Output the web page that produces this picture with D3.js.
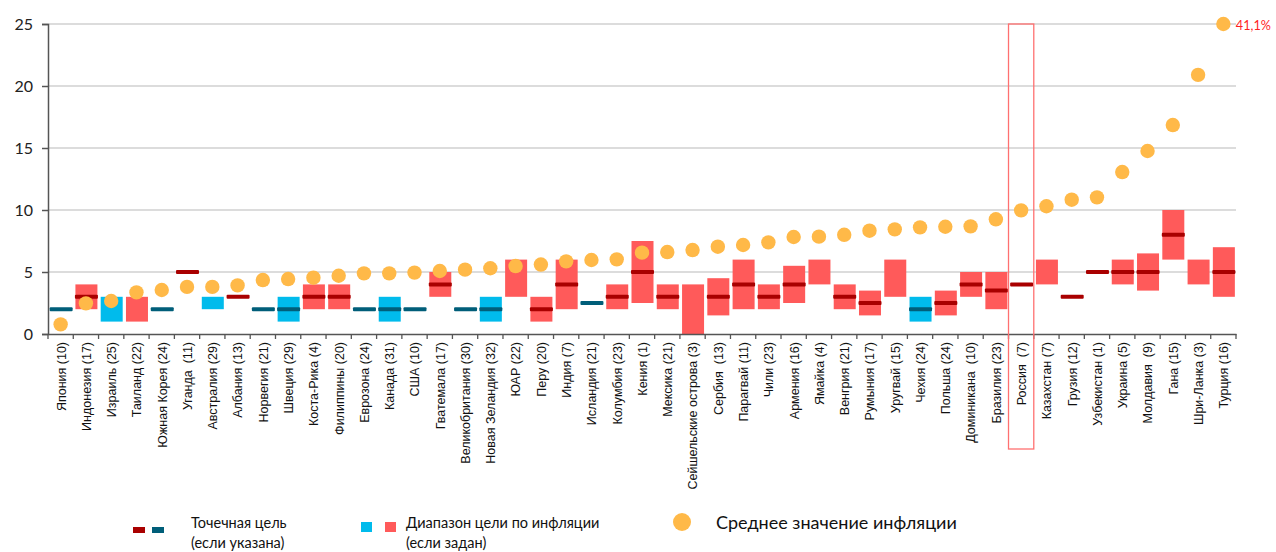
<!DOCTYPE html>
<html><head><meta charset="utf-8">
<script src="https://cdn.jsdelivr.net/npm/d3@7"></script>
<style>
body{margin:0;background:#fff;}
svg{display:block;}
</style></head><body>
<svg id="chart" width="1276" height="552"></svg>
<script>
const categories = ["Япония (10)","Индонезия (17)","Израиль (25)","Таиланд (22)","Южная Корея (24)","Уганда  (11)","Австралия (29)","Албания (13)","Норвегия (21)","Швеция (29)","Коста-Рика (4)","Филиппины (20)","Еврозона (24)","Канада (31)","США (10)","Гватемала (17)","Великобритания (30)","Новая Зеландия (32)","ЮАР (22)","Перу (20)","Индия (7)","Исландия (21)","Колумбия (23)","Кения (1)","Мексика (21)","Сейшельские острова (3)","Сербия  (13)","Парагвай (11)","Чили (23)","Армения (16)","Ямайка (4)","Венгрия (21)","Румыния (17)","Уругвай (15)","Чехия (24)","Польша (24)","Доминикана  (10)","Бразилия (23)","Россия  (7)","Казахстан (7)","Грузия (12)","Узбекистан (1)","Украина (5)","Молдавия  (9)","Гана (15)","Шри-Ланка (3)","Турция (16)"];
const targetType = ["b","r","b","r","b","r","b","r","b","b","r","r","b","b","b","r","b","b","r","r","r","b","r","r","r","r","r","r","r","r","r","r","r","r","b","r","r","r","r","r","r","r","r","r","r","r","r"];
const pointTarget = [2,3,null,null,2,5,null,3,2,2,3,3,2,2,2,4,2,2,null,2,4,2.5,3,5,3,null,3,4,3,4,null,3,2.5,null,2,2.5,4,3.5,4,null,3,5,5,5,8,null,5];
const rangeLow  = [null,2,1,1,null,null,2,null,null,1,2,2,null,1,null,3,null,1,3,1,2,null,2,2.5,2,0,1.5,2,2,2.5,4,2,1.5,3,1,1.5,3,2,null,4,null,null,4,3.5,6,4,3];
const rangeHigh = [null,4,3,3,null,null,3,null,null,3,4,4,null,3,null,5,null,3,6,3,6,null,4,7.5,4,4,4.5,6,4,5.5,6,4,3.5,6,3,3.5,5,5,null,6,null,null,6,6.5,10,6,7];
const meanInflation = [0.78,2.47,2.66,3.36,3.55,3.8,3.8,3.92,4.35,4.43,4.54,4.7,4.89,4.89,4.95,5.08,5.19,5.3,5.48,5.6,5.86,5.97,6.02,6.56,6.61,6.77,7.04,7.18,7.39,7.82,7.85,8.0,8.33,8.44,8.6,8.65,8.68,9.25,9.97,10.3,10.83,11.02,13.06,14.76,16.85,20.9,41.1];
const yTicks = [0,5,10,15,20,25];
const highlighted = "Россия  (7)";
const legendPoint = ["Точечная цель","(если указана)"];
const legendRange = ["Диапазон цели по инфляции","(если задан)"];
const legendMean = "Среднее значение инфляции";

const colors = {rangeR:"#ff5a5a", rangeB:"#00bbec", targR:"#a90000", targB:"#005e79", dot:"#ffb948"};

const data = categories.map((c,i)=>({c, t:targetType[i], p:pointTarget[i], lo:rangeLow[i], hi:rangeHigh[i], m:meanInflation[i]}));

const svg = d3.select("#chart");
const mLeft = 48, mRight = 1236, mTop = 24, mBottom = 334;
const x = d3.scaleBand().domain(categories).range([mLeft,mRight]).paddingInner(0).paddingOuter(0);
const y = d3.scaleLinear().domain([0,25]).range([mBottom,mTop]).clamp(true);
const bw = x.bandwidth();
const cx = c => x(c) + bw/2 + 0.5;

// gridlines
svg.append("g").selectAll("line").data(yTicks.filter(d=>d>0)).join("line")
  .attr("x1",mLeft).attr("x2",mRight).attr("y1",d=>y(d)).attr("y2",d=>y(d))
  .attr("stroke","#d0d0d0").attr("stroke-width",1.5);

// ranges
svg.append("g").selectAll("rect").data(data.filter(d=>d.lo!=null)).join("rect")
  .attr("x",d=>cx(d.c)-11).attr("width",22)
  .attr("y",d=>y(d.hi)).attr("height",d=>y(d.lo)-y(d.hi))
  .attr("fill",d=>d.t==="b"?colors.rangeB:colors.rangeR);

// point targets
svg.append("g").selectAll("rect").data(data.filter(d=>d.p!=null)).join("rect")
  .attr("x",d=>cx(d.c)-11.5).attr("width",23)
  .attr("y",d=>y(d.p)-2).attr("height",4).attr("rx",1)
  .attr("fill",d=>d.t==="b"?colors.targB:colors.targR);

// mean dots
svg.append("g").selectAll("circle").data(data).join("circle")
  .attr("cx",d=>cx(d.c)-0.5).attr("cy",d=>y(d.m)).attr("r",7.2)
  .attr("fill",colors.dot);

// overflow label
const over = data.filter(d=>d.m>25);
svg.append("g").selectAll("text").data(over).join("text")
  .attr("x",d=>cx(d.c)+12).attr("y",d=>y(d.m)+5.5)
  .attr("fill","#ff1f1f").attr("font-family","Lato, 'Open Sans', sans-serif").attr("font-size",14)
  .attr("textLength",35).attr("lengthAdjust","spacingAndGlyphs")
  .text(d=>d3.format(".1f")(d.m).replace(".",",")+"%");

// y axis
const yAxis = svg.append("g").attr("transform",`translate(${mLeft},0)`)
  .call(d3.axisLeft(y).tickValues(yTicks).tickSize(6).tickPadding(9).tickFormat(d3.format("d")));
yAxis.select(".domain").attr("stroke","#555").attr("stroke-width",1.5);
yAxis.selectAll(".tick line").attr("stroke","#555").attr("stroke-width",1.5);
yAxis.selectAll("text").attr("font-family","Lato, 'Open Sans', sans-serif").attr("font-size",16).attr("fill","#222");

// x axis
const xAxis = svg.append("g").attr("transform",`translate(0,${mBottom})`)
  .call(d3.axisBottom(x).tickSize(0).tickSizeOuter(0));
xAxis.select(".domain").attr("stroke","#555").attr("stroke-width",1.5);
xAxis.selectAll(".tick text")
  .attr("transform","rotate(-90)").attr("x",-8).attr("y",0.5).attr("dy","0.35em")
  .style("text-anchor","end").style("white-space","pre")
  .attr("font-family","'Liberation Sans', Arial, sans-serif").attr("font-size",12.5).attr("fill","#111");
// boundary tick marks
const bounds = categories.map(c=>x(c)).concat([mRight]);
svg.append("g").selectAll("line").data(bounds).join("line")
  .attr("x1",d=>d).attr("x2",d=>d).attr("y1",mBottom).attr("y2",mBottom+5)
  .attr("stroke","#555").attr("stroke-width",1.3);

// highlight box
svg.append("rect").attr("x",x(highlighted)).attr("width",bw)
  .attr("y",mTop).attr("height",449-mTop)
  .attr("fill","none").attr("stroke","#ff7070").attr("stroke-width",1.3);

// legend
const lf = "Lato, 'Open Sans', sans-serif";
const lg = svg.append("g");
lg.append("rect").attr("x",133).attr("y",527).attr("width",12).attr("height",6).attr("fill",colors.targR);
lg.append("rect").attr("x",152).attr("y",527).attr("width",12).attr("height",6).attr("fill",colors.targB);
lg.append("text").attr("x",191).attr("y",528).attr("font-family",lf).attr("font-size",14.5).attr("fill","#111").text(legendPoint[0]);
lg.append("text").attr("x",191).attr("y",548).attr("font-family",lf).attr("font-size",14.5).attr("fill","#111").text(legendPoint[1]);
lg.append("rect").attr("x",361).attr("y",522).attr("width",11).attr("height",10).attr("fill",colors.rangeB);
lg.append("rect").attr("x",385).attr("y",522).attr("width",11).attr("height",10).attr("fill",colors.rangeR);
lg.append("text").attr("x",406).attr("y",528).attr("font-family",lf).attr("font-size",14.5).attr("fill","#111").text(legendRange[0]);
lg.append("text").attr("x",406).attr("y",548).attr("font-family",lf).attr("font-size",14.5).attr("fill","#111").text(legendRange[1]);
lg.append("circle").attr("cx",682).attr("cy",522).attr("r",9).attr("fill",colors.dot);
lg.append("text").attr("x",716).attr("y",529).attr("font-family",lf).attr("font-size",18).attr("fill","#111").text(legendMean);
</script>
</body></html>
